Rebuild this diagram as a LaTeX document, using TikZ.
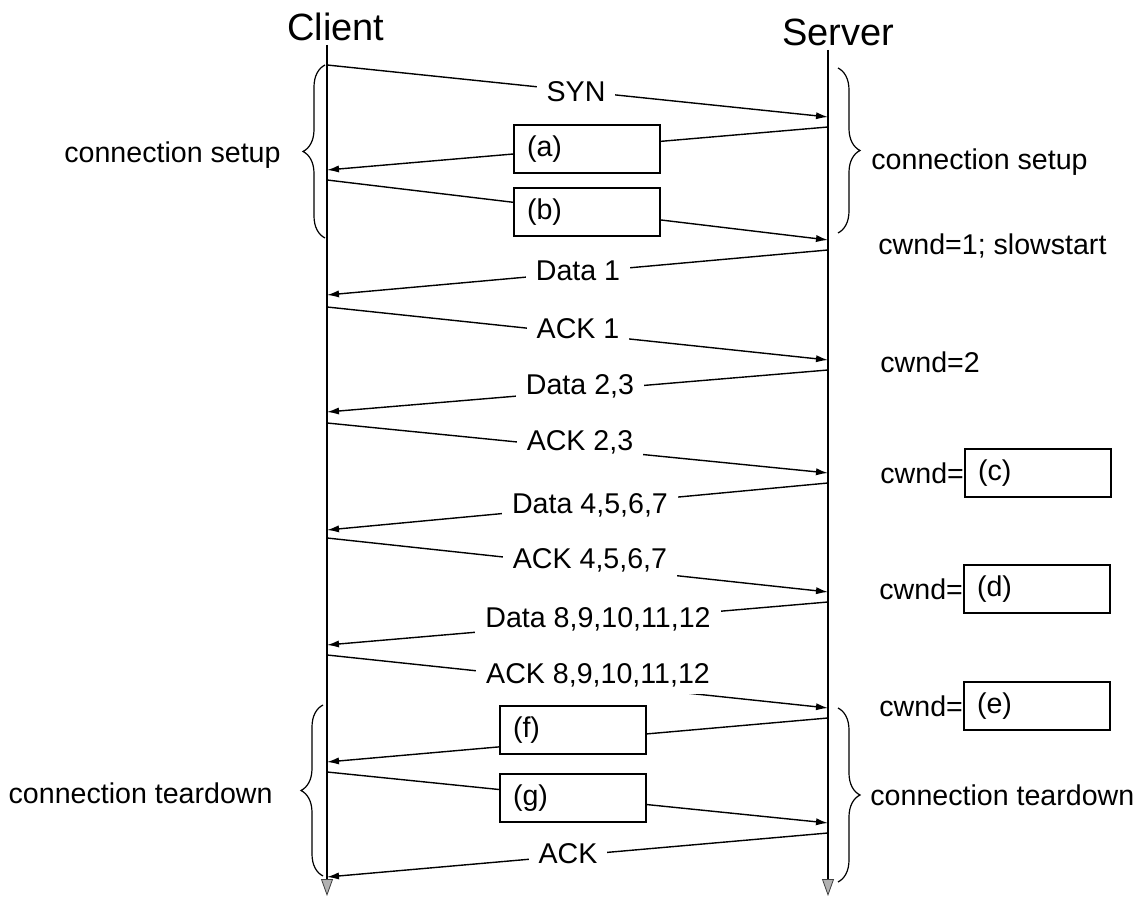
\documentclass[tikz,border=0pt]{standalone}
\usepackage{fontspec}
\setmainfont{Liberation Sans}
\usetikzlibrary{arrows.meta,decorations.pathreplacing}
\newcommand{\boxtxt}[1]{\makebox[60pt][l]{#1}}
\begin{document}
\begin{tikzpicture}[x=0.5pt,y=-0.5pt,
  lbl/.style={font=\fontsize{14.3}{16}\selectfont, inner sep=0pt},
  ttl/.style={font=\fontsize{19}{22}\selectfont, inner sep=0pt, anchor=base},
  life/.style={line width=1pt, -{Triangle[length=8.5pt,width=6pt,fill=gray!60,color=black!75,line width=0.4pt]}},
  msg/.style={line width=0.7pt, -{Latex[length=6pt,width=3.6pt]}},
  msglbl/.style={lbl, fill=white, inner xsep=5pt, inner ysep=3.5pt},
  ansbox/.style={draw, line width=0.7pt, fill=white, lbl, minimum height=24pt, minimum width=73pt, inner xsep=6.5pt, inner ysep=0pt},
  brc/.style={decorate, decoration={brace, amplitude=11pt}, line width=0.6pt},
]
\useasboundingbox (0,0) rectangle (1141,897);

% titles
\node[ttl] (client) at (336,41) {Client};
\node[ttl] (server) at (838,46) {Server};

% lifelines
\coordinate (ctop) at (327,45);
\coordinate (cbot) at (327,896);
\coordinate (stop) at (828,50);
\coordinate (sbot) at (828,896);
\draw[life] (ctop) -- (cbot);
\draw[life] (stop) -- (sbot);

% message end points
\coordinate (c1) at (327,65);  \coordinate (s1) at (828,117);
\coordinate (s2) at (828,127); \coordinate (c2) at (327,170);
\coordinate (c3) at (327,180); \coordinate (s3) at (828,240);
\coordinate (s4) at (828,250); \coordinate (c4) at (327,295);
\coordinate (c5) at (327,307); \coordinate (s5) at (828,360);
\coordinate (s6) at (828,370); \coordinate (c6) at (327,412);
\coordinate (c7) at (327,423); \coordinate (s7) at (828,473);
\coordinate (s8) at (828,483); \coordinate (c8) at (327,530);
\coordinate (c9) at (327,538); \coordinate (s9) at (828,592);
\coordinate (s10) at (828,602); \coordinate (c10) at (327,645);
\coordinate (c11) at (327,655); \coordinate (s11) at (828,708);
\coordinate (s12) at (828,718); \coordinate (c12) at (327,762);
\coordinate (c13) at (327,772); \coordinate (s13) at (828,823);
\coordinate (s14) at (828,833); \coordinate (c14) at (327,877);

% messages
\draw[msg] (c1) -- (s1);
\draw[msg] (s2) -- (c2);
\draw[msg] (c3) -- (s3);
\draw[msg] (s4) -- (c4);
\draw[msg] (c5) -- (s5);
\draw[msg] (s6) -- (c6);
\draw[msg] (c7) -- (s7);
\draw[msg] (s8) -- (c8);
\draw[msg] (c9) -- (s9);
\draw[msg] (s10) -- (c10);
\draw[msg] (c11) -- (s11);
\draw[msg] (s12) -- (c12);
\draw[msg] (c13) -- (s13);
\draw[msg] (s14) -- (c14);

% message labels
\node[msglbl] (syn) at (576,92) {SYN};
\node[msglbl] (d1) at (578,271) {Data 1};
\node[msglbl] (a1) at (578,329) {ACK 1};
\node[msglbl] (d23) at (580,386) {Data 2,3};
\node[msglbl] (a23) at (580,442) {ACK 2,3};
\node[msglbl] (d47) at (590,505) {Data 4,5,6,7};
\node[msglbl] (a47) at (590,560) {ACK 4,5,6,7};
\node[msglbl] (d812) at (598,619) {Data 8,9,10,11,12};
\node[msglbl] (a812) at (598,675) {ACK 8,9,10,11,12};
\node[msglbl] (ack) at (568,854) {ACK};

% answer boxes on messages
\node[ansbox] (ba) at (587,149) {\boxtxt{(a)}};
\node[ansbox] (bb) at (587,212) {\boxtxt{(b)}};
\node[ansbox] (bf) at (573,730) {\boxtxt{(f)}};
\node[ansbox] (bg) at (573,798) {\boxtxt{(g)}};

% cwnd annotations
\node[lbl, anchor=west] (cw1) at (878,246) {cwnd=1; slowstart};
\node[lbl, anchor=west] (cw2) at (880,362) {cwnd=2};
\node[ansbox] (bc) at (1038,473) {\boxtxt{(c)}};
\node[ansbox] (bd) at (1037,589) {\boxtxt{(d)}};
\node[ansbox] (be) at (1037,706) {\boxtxt{(e)}};
\node[lbl, anchor=east] (cwc) at (bc.west) {cwnd=};
\node[lbl, anchor=east] (cwd) at (bd.west) {cwnd=};
\node[lbl, anchor=east] (cwe) at (be.west) {cwnd=};

% braces
\coordinate (lsb) at (325,238); \coordinate (lst) at (325,65);
\coordinate (rst) at (838,68);  \coordinate (rsb) at (838,233);
\coordinate (ltb) at (323,876); \coordinate (ltt) at (323,705);
\coordinate (rtt) at (838,708); \coordinate (rtb) at (838,882);
\draw[brc] (lsb) -- (lst);
\draw[brc] (rst) -- (rsb);
\draw[brc] (ltb) -- (ltt);
\draw[brc] (rtt) -- (rtb);

\node[lbl, anchor=east] (lsetup) at (281,155) {connection setup};
\node[lbl, anchor=west] (rsetup) at (871,162) {connection setup};
\node[lbl, anchor=east] (ltear) at (273,793) {connection teardown};
\node[lbl, anchor=west] (rtear) at (870,795) {connection teardown};
\end{tikzpicture}
\end{document}
